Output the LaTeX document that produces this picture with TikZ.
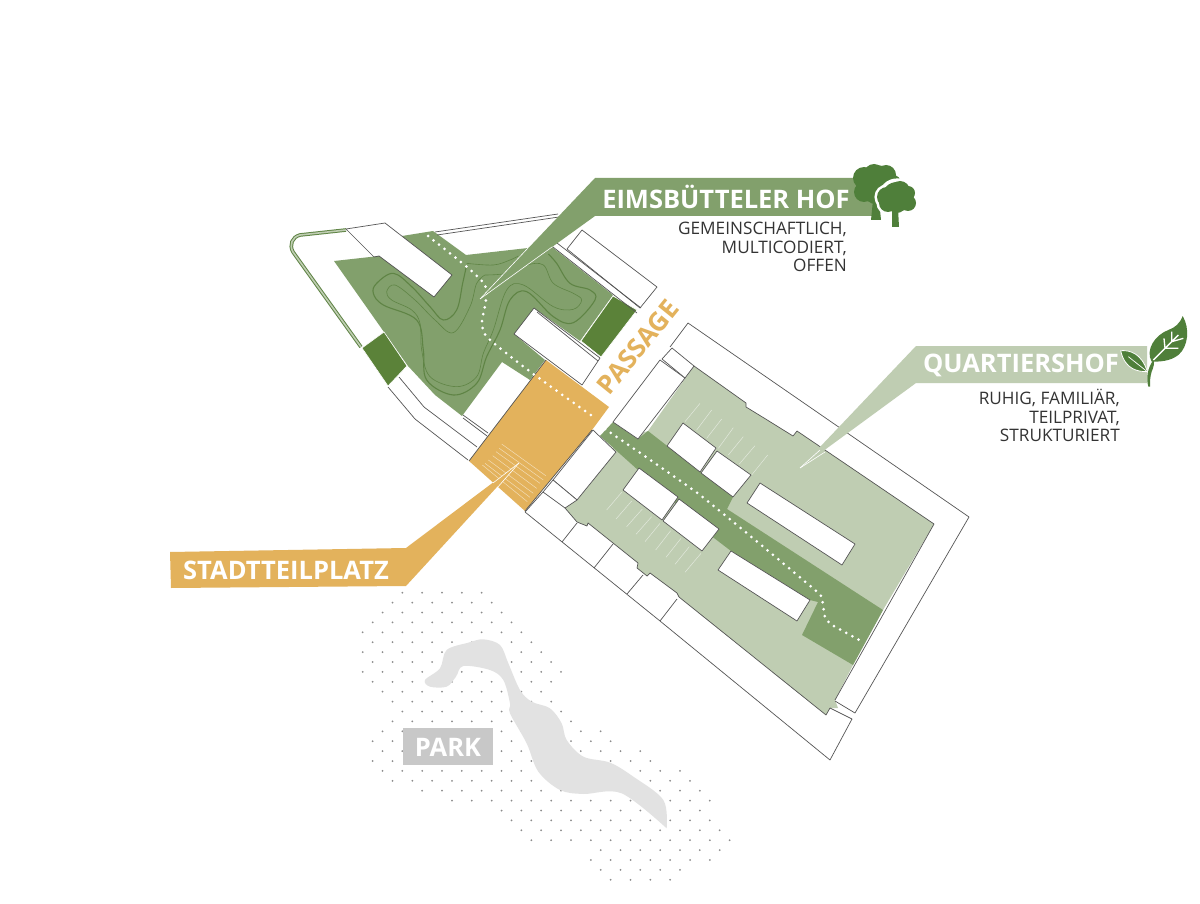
\documentclass[tikz,border=0pt]{standalone}
\usepackage{fontspec}
\setmainfont{Open Sans}
\definecolor{courtgreen}{HTML}{82A06C}
\definecolor{lightcourt}{HTML}{BFCDB2}
\definecolor{plaza}{HTML}{E3B25C}
\definecolor{darkgreen}{HTML}{5B8239}
\definecolor{contour}{HTML}{5F8445}
\definecolor{iconred}{HTML}{4F7F3A}
\definecolor{outline}{HTML}{555555}
\definecolor{lake}{HTML}{E2E2E2}
\definecolor{parkbox}{HTML}{C8C8C8}
\definecolor{labeltext}{HTML}{333333}
\tikzset{
  blockline/.style={draw=outline,line width=.7pt,line join=round},
  blockfill/.style={fill=white,draw=outline,line width=.7pt,line join=round},
  dotpath/.style={draw=white,line width=3pt,line cap=round,dash pattern=on 0pt off 7pt},
  contourthick/.style={draw=contour,line width=1.1pt},
  contourthin/.style={draw=contour,line width=.6pt},
  hatch/.style={draw=white,line width=.5pt,opacity=.55},
  tipline/.style={draw=white,line width=.6pt},
  headtext/.style={font=\fontsize{25.5}{25.5}\selectfont\bfseries,text=white,inner sep=0pt},
  subtext/.style={font=\fontsize{17.2}{18.5}\selectfont,text=labeltext,align=right,inner sep=0pt,anchor=north east},
}
\begin{document}
\begin{tikzpicture}[x=1pt,y=-1pt]
\useasboundingbox (0,0) rectangle (1200,904);
\fill[white] (0,0) rectangle (1200,904);

% park dots
\foreach \k/\a/\b in {0/2/6,1/1/6,2/1/7,3/0/7,4/0/8,5/0/8,6/0/9,7/0/9,8/0/10,9/0/9,10/1/9,11/1/9,12/2/10,13/1/10,14/1/12,15/0/12,16/1/14,17/0/14,18/1/16,19/1/16,20/3/17,21/4/17,22/7/17,23/7/17,24/8/18,25/8/18,26/12/18,27/11/17,28/12/16,29/12/15}{
  \foreach \i in {\a,...,\b}{
    \pgfmathsetmacro{\xz}{(mod(\k,2)==0?38:68)+59.5*\i}
    \pgfmathsetmacro{\px}{350+\xz/3}
    \pgfmathsetmacro{\py}{592.7+9.9*\k}
    \fill[black!45] (\px,\py) circle (1);
  }
}
% lake
\begin{scope}[shift={(350,580)},scale=1/3]
\fill[lake] plot[smooth,tension=.55] coordinates {(950,745) (940,660) (850,590) (780,548) (700,530) (650,480) (635,430) (600,385) (545,365) (510,330) (475,250) (450,195) (400,178) (355,188) (290,210) (270,265) (225,300) (240,320) (290,320) (318,290) (340,258) (420,270) (460,300) (480,370) (480,400) (530,490) (565,575) (630,630) (700,642) (815,640) (950,745)} -- cycle;
\end{scope}
\node[fill=parkbox,minimum width=90pt,minimum height=37pt,inner sep=0pt] (parkbox) at (448,746.5) {};
\node[headtext] (park) at (448,747) {PARK};

% quartiershof light court
\fill[lightcourt] (694,366) -- (746,403) -- (746,407) -- (764,418) -- (793,436) -- (797,431) -- (934,524) -- (883,610) -- (853,665) -- (835,700) -- (838,708) -- (830,708) -- (826,715) -- (679,597) -- (677,593) -- (650,573) -- (647,576) -- (637,568) -- (638,563) -- (588,523) -- (587,526) -- (577,522) -- (565,508) -- (620,440) -- (648,431) -- cycle;
% strip
\fill[courtgreen] (613,422) -- (638,439) -- (648,431) -- (733,497) -- (727,509) -- (883,610) -- (853,665) -- (802,635) -- (818,602) -- (810,600) -- (731,551) -- (714,538) -- (600,436) -- cycle;
% parking hatch
\begin{scope}[shift={(600,320)},scale=1/3]
\foreach \a/\b/\c/\d in {300/250/255/305,335/270/290/330,365/297/320/355,400/323/355/385,430/350/385/405,465/377/418/432,503/405/455/465,65/517/20/570,95/543/48/597,127/567/80/620,155/590/108/643,180/610/135/665,212/632/167/690,243/655/198/712,268/680/225/733,303/700/255/757}
  \draw[hatch] (\a,\b) -- (\c,\d);
\end{scope}
% court blocks
\draw[blockfill] (683,423) -- (716,448) -- (700,472) -- (667,446) -- cycle;
\draw[blockfill] (717,451) -- (751,475) -- (733,497) -- (701,473) -- cycle;
\draw[blockfill] (639,468) -- (678,497) -- (662,520) -- (623,490) -- cycle;
\draw[blockfill] (679,499) -- (719,529) -- (702,551) -- (663,521) -- cycle;
\draw[blockfill] (760,483) -- (855,544) -- (842,565) -- (747,503) -- cycle;
\draw[blockfill] (731,551) -- (810,600) -- (797,621) -- (718,570) -- cycle;
\draw[blockfill] (660,360) -- (685,378) -- (638,439) -- (613,422) -- cycle;
\draw[blockfill] (593,430) -- (616,452) -- (577,500) -- (553,480) -- cycle;
\draw[blockfill] (543,492) -- (553,480) -- (577,500) -- (565,508) -- cycle;
\draw[blockfill] (672,348) -- (694,366) -- (685,378) -- (662,359) -- cycle;
% outer outlines east
\draw[blockline] (670,347) -- (688,323) -- (969,517) -- (855,713) -- (835,701);
\draw[blockline] (694,366) -- (746,403) -- (746,407) -- (764,418) -- (793,436) -- (797,431) -- (934,524) -- (835,700);
\draw[blockline] (830,708) -- (826,715) -- (679,597) -- (677,593) -- (650,573) -- (647,576) -- (637,568) -- (638,563) -- (588,523) -- (587,526) -- (577,522) -- (565,508);
\draw[blockline] (525,512) -- (660,621) -- (830,760) -- (852,719) -- (830,708);
\draw[blockline] (562,542) -- (577,523);
\draw[blockline] (594,568) -- (613,544);
\draw[blockline] (627,594) -- (643,575);
\draw[blockline] (660,621) -- (677,599);
\draw[blockline] (525,512) -- (543,492);

% eimsbuetteler court
\fill[courtgreen] (334,261) -- (379,256) -- (434,297) -- (452,275) -- (402,236) -- (433,231) -- (466,255) -- (528,248) -- (552,247) -- (613,295) -- (580,341) -- (534,308) -- (514,334) -- (545,360) -- (530,380) -- (502,362) -- (462,416) -- (435,395) -- (408,366) -- (384,332) -- cycle;
\begin{scope}[shift={(280,150)},scale=1/3]
\draw[contourthick] plot[smooth,tension=.6] coordinates {(560,345) (548,400) (530,480) (490,510) (450,470) (395,410) (340,370) (290,400) (280,430) (310,465) (410,510) (430,600) (440,690) (520,735) (590,700) (620,620) (660,540) (690,450) (740,425) (820,500) (880,518) (945,450) (930,420) (870,400) (830,340) (805,312)};
\draw[contourthin] plot[smooth,tension=.6] coordinates {(615,375) (590,400) (570,470) (520,548) (465,510) (405,450) (345,405) (320,425) (335,450) (395,480) (420,520) (425,600) (450,680) (530,710) (590,680) (610,610) (640,540) (680,420) (730,405) (820,470) (880,478) (905,450) (880,430) (820,400) (790,345) (740,345) (680,370) (615,375)};
\draw[contourthin] plot[smooth,tension=.6] coordinates {(560,340) (640,345) (690,330) (715,318)};
\end{scope}
% dark green squares
\filldraw[fill=darkgreen,draw=white,line width=.6pt] (613,296) -- (637,310) -- (601,357) -- (581,341) -- cycle;
\filldraw[fill=darkgreen,draw=white,line width=.6pt] (384,332) -- (407,366) -- (388,386) -- (362,348) -- cycle;

% NW outlines
\draw[draw=contour,line width=1pt,double=lightcourt,double distance=1.6pt] (346,230) -- (300,235) .. controls (292,237) and (289,245) .. (293,252) -- (361,347);
\draw[blockline] (346,229) -- (385,223) -- (452,275) -- (434,297) -- (379,256) -- (374,257) -- cycle;
\draw[blockline] (435,232) -- (558,214);
\draw[blockline] (437,235) -- (559,217);
\draw[blockline] (582,230) -- (657,287) -- (640,308) -- (567,249) -- cycle;
\draw[blockline] (557,243) -- (641,308);
\draw[blockline] (553,247) -- (637,313);
\draw[blockline] (534,308) -- (600,358) -- (582,385) -- (514,334) -- cycle;
\draw[blockline] (537,312) -- (598,361);
\draw[blockline] (388,387) -- (415,419) -- (468,460);
\draw[blockline] (399,377) -- (424,407) -- (477,447);
\draw[blockline] (463,415) -- (488,433);
\draw[blockline] (463,418) -- (487,436);

% plaza
\fill[plaza] (546,360) -- (609,407) -- (592,430) -- (525,511) -- (469,461) -- cycle;
\draw[blockline] (546,360) -- (469,461);
\draw[blockline] (592,430) -- (525,511);
\begin{scope}[shift={(450,300)},scale=1/3]
\foreach \a/\b/\c/\d in {155/432/287/527,148/445/280/540,138/455/270/550,128/467/260/565,115/480/250/580,105/490/240/592,97/495/232/605}
  \draw[hatch] (\a,\b) -- (\c,\d);
\end{scope}

% dotted path
\draw[dotpath] plot[smooth,tension=.4] coordinates {(428,236) (467,267) (485,285) (486,300) (482,323) (488,338) (532,373) (595,418)};
\draw[dotpath] plot[smooth,tension=.3] coordinates {(605,429) (700,495) (815,590) (822,600) (825,617) (832,625) (863,642)};

% callouts
\fill[courtgreen] (595,178) -- (873,178) -- (873,216) -- (595,216) -- (480,299) -- cycle;
\draw[tipline] (480,299) -- (528,248);
\draw[tipline] (480,299) -- (552,247);
\fill[lightcourt] (916,346) -- (1147,346) -- (1147,383) -- (916,383) -- (800,468) -- cycle;
\draw[tipline] (800,468) -- (820,450);
\draw[tipline] (800,468) -- (825,452);
\fill[plaza] (170,552) -- (406,548) -- (519,463) -- (406,586) -- (171,588) -- cycle;
\draw[tipline] (519,463) -- (493,483);
\draw[tipline] (519,463) -- (497,488);

% tree icon
\begin{scope}
\fill[iconred] (873,200) -- (879,200) -- (881,220) -- (871,220) -- cycle;
\foreach \x/\y/\r in {876/184/19,864/178/11,874/174/10,886/175/10,893/183/8,864/192/10,875/195/9,885/192/9}
  \fill[iconred] (\x,\y) circle (\r);
\foreach \x/\y/\r in {897/197/17,887/197/11,888/203/10,900/191/11,908/193/8,908/203/8,897/205/9}
  \fill[white] (\x,\y) circle (\r+1.6);
\fill[iconred] (892,208) -- (898,208) -- (899,227) -- (892,227) -- cycle;
\foreach \x/\y/\r in {897/197/15,887/197/10,888/203/9,900/191/10,908/193/7,908/203/8,897/205/8}
  \fill[iconred] (\x,\y) circle (\r);
\end{scope}

% leaf icon
\begin{scope}[shift={(1090,305)},scale=1/3]
\fill[iconred] (175,245) .. controls (168,220) and (172,190) .. (190,165) .. controls (195,170) and (190,190) .. (185,200) .. controls (180,215) and (180,230) .. (180,245) -- cycle;
\fill[iconred] (185,170) .. controls (165,135) and (195,90) .. (235,75) .. controls (255,68) and (270,55) .. (278,33) .. controls (300,70) and (295,125) .. (265,150) .. controls (240,170) and (205,170) .. (185,170) -- cycle;
\draw[white,line width=1.3pt] (190,165) -- (265,90) (225,130) -- (222,100) (245,110) -- (245,80) (225,130) -- (265,130) (245,110) -- (280,100);
\filldraw[fill=iconred,draw=white,line width=.8pt] (92,137) .. controls (120,135) and (155,145) .. (172,200) .. controls (145,200) and (105,195) .. (92,137) -- cycle;
\draw[white,line width=.7pt] (115,155) -- (168,197);
\end{scope}

% labels
\node[headtext] (eims) at (726,197) {EIMSBÜTTELER HOF};
\node[headtext] (quart) at (1021,365) {QUARTIERSHOF};
\node[headtext] (stadt) at (286,570) {STADTTEILPLATZ};
\node[subtext] (eimssub) at (847,222) {GEMEINSCHAFTLICH,\\MULTICODIERT,\\OFFEN};
\node[subtext] (quartsub) at (1120,389) {RUHIG, FAMILIÄR,\\TEILPRIVAT,\\STRUKTURIERT};
\node[font=\fontsize{26}{26}\selectfont\bfseries,text=plaza,inner sep=0pt,rotate=51] (passage) at (638,347) {PASSAGE};
\end{tikzpicture}
\end{document}
